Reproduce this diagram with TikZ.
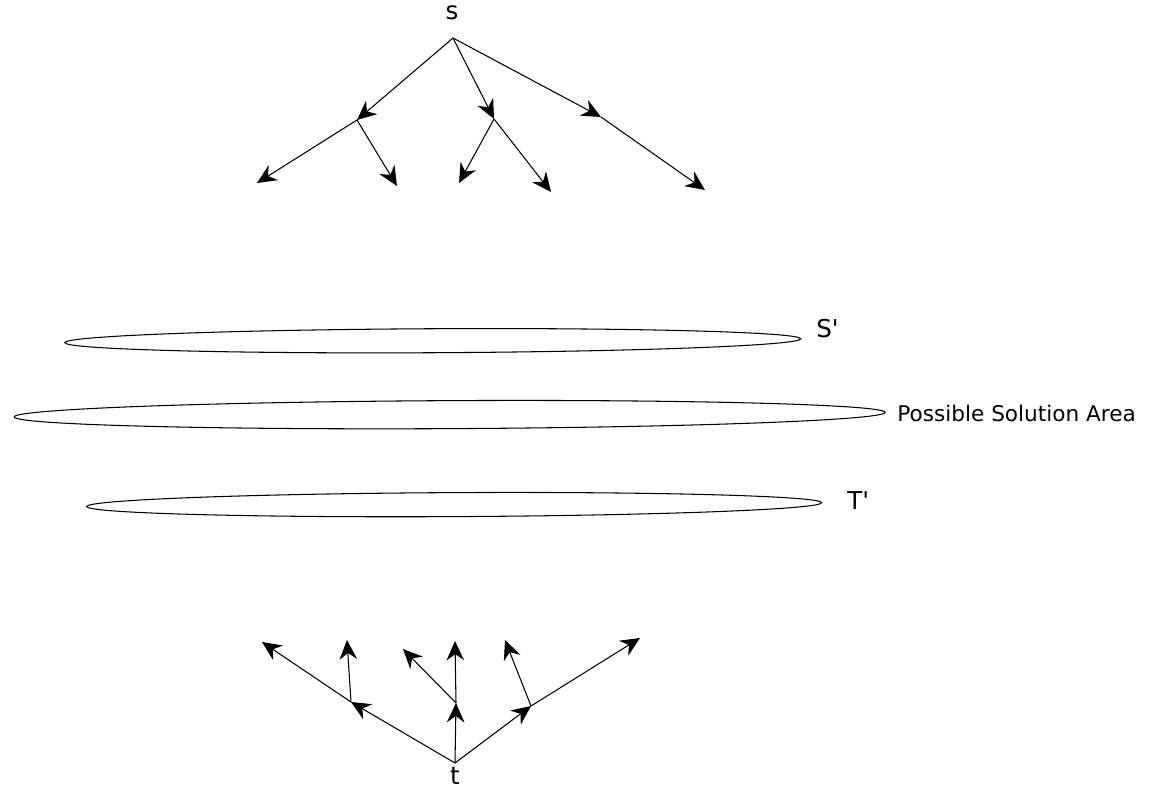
\documentclass[tikz,border=0pt]{standalone}
\usepackage{fontspec}
\setmainfont{DejaVu Sans}
\usetikzlibrary{arrows.meta}

\begin{document}
\begin{tikzpicture}[x=0.02cm, y=-0.02cm,
    edge/.style={line width=0.6pt, -{Stealth[length=11pt, width=10pt]}},
    lbl/.style={font=\fontsize{14}{16}\selectfont, inner sep=0pt},
    area/.style={line width=0.6pt, rotate=0.3}]
        \useasboundingbox (0,0) rectangle (1153,788);

        % Forward search from s
        \node[lbl] (s) at (452,13) {s};
        \coordinate (sr) at (453,38);
        \coordinate (a) at (357,120);
        \coordinate (a1) at (257,183);
        \coordinate (a2) at (397,186);
        \coordinate (b) at (494,119);
        \coordinate (b1) at (459,183);
        \coordinate (b2) at (551,192);
        \coordinate (c) at (601,117);
        \coordinate (c1) at (705,190);
        \draw[edge] (sr) -- (a);
        \draw[edge] (sr) -- (b);
        \draw[edge] (sr) -- (c);
        \draw[edge] (a) -- (a1);
        \draw[edge] (a) -- (a2);
        \draw[edge] (b) -- (b1);
        \draw[edge] (b) -- (b2);
        \draw[edge] (c) -- (c1);

        % Frontiers
        \draw[area] (431,343) ellipse [x radius=368, y radius=12];
        \node[lbl, anchor=west] (sp) at (816,329) {S\textquotesingle};
        \draw[area] (447.5,417) ellipse [x radius=435.5, y radius=14];
        \node[anchor=west, inner sep=0pt, font=\fontsize{12.3}{14}\selectfont] (psa) at (897,413) {Possible Solution Area};
        \draw[area] (451.5,507) ellipse [x radius=367.5, y radius=12];
        \node[lbl, anchor=west] (tp) at (847,501) {T\textquotesingle};

        % Backward search from t
        \node[lbl] (t) at (455,776) {t};
        \coordinate (tr) at (455,763);
        \coordinate (d) at (351,702);
        \coordinate (d1) at (262,642);
        \coordinate (d2) at (347,640);
        \coordinate (e) at (456,703);
        \coordinate (e1) at (403,649);
        \coordinate (e2) at (455,641);
        \coordinate (f) at (531,706);
        \coordinate (f1) at (505,640);
        \coordinate (f2) at (640,638);
        \draw[edge] (tr) -- (d);
        \draw[edge] (tr) -- (e);
        \draw[edge] (tr) -- (f);
        \draw[edge] (d) -- (d1);
        \draw[edge] (d) -- (d2);
        \draw[edge] (e) -- (e1);
        \draw[edge] (e) -- (e2);
        \draw[edge] (f) -- (f1);
        \draw[edge] (f) -- (f2);
    \end{tikzpicture}
\end{document}
